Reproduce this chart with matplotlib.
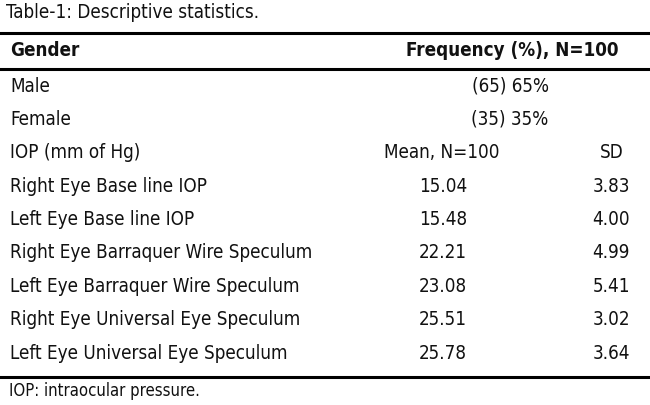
import matplotlib
matplotlib.use("Agg")
import matplotlib.pyplot as plt
from matplotlib import font_manager as fm

title = "Table-1: Descriptive statistics."
footnote = "IOP: intraocular pressure."
header = ["Gender", "Frequency (%), N=100"]
gender_labels = ["Male", "Female"]
gender_counts = [65, 35]
gender_pcts = [65, 35]
sub_header = ["IOP (mm of Hg)", "Mean, N=100", "SD"]
iop_labels = [
    "Right Eye Base line IOP",
    "Left Eye Base line IOP",
    "Right Eye Barraquer Wire Speculum",
    "Left Eye Barraquer Wire Speculum",
    "Right Eye Universal Eye Speculum",
    "Left Eye Universal Eye Speculum",
]
iop_means = [15.04, 15.48, 22.21, 23.08, 25.51, 25.78]
iop_sds = [3.83, 4.00, 4.99, 5.41, 3.02, 3.64]

names = {f.name for f in fm.fontManager.ttflist}
if "Liberation Sans Narrow" in names:
    fam = "Liberation Sans Narrow"
    stretch = "normal"
    fs = 14.5 * 1.125
else:
    fam = "DejaVu Sans"
    stretch = "condensed"
    fs = 12 * 1.125

W, H = 650, 405
fig = plt.figure(figsize=(W / 100, H / 100), dpi=100)
ax = fig.add_axes([0, 0, 1, 1])
ax.set_xlim(0, W)
ax.set_ylim(H, 0)
ax.axis("off")

kw = dict(family=fam, fontstretch=stretch, fontsize=fs, va="center", color="#111111")

ax.text(6, 13, title, ha="left", **kw)
ax.axhline(33, color="black", lw=2.2)
ax.text(10, 50, header[0], ha="left", fontweight="bold", **kw)
ax.text(619, 50, header[1], ha="right", fontweight="bold", **kw)
ax.axhline(69, color="black", lw=2.2)

row_h = 33.4
y0 = 86
for i, (lab, c, p) in enumerate(zip(gender_labels, gender_counts, gender_pcts)):
    y = y0 + i * row_h
    ax.text(10, y, lab, ha="left", **kw)
    ax.text(510, y, f"({c}) {p}%", ha="center", **kw)

y = y0 + 2 * row_h
ax.text(10, y, sub_header[0], ha="left", **kw)
ax.text(442, y, sub_header[1], ha="center", **kw)
ax.text(612, y, sub_header[2], ha="center", **kw)

for i, (lab, m, s) in enumerate(zip(iop_labels, iop_means, iop_sds)):
    y = y0 + (3 + i) * row_h
    ax.text(10, y, lab, ha="left", **kw)
    ax.text(443, y, f"{m:.2f}", ha="center", **kw)
    ax.text(630, y, f"{s:.2f}", ha="right", **kw)

ax.axhline(377, color="black", lw=2.2)
ax.text(9, 391, footnote, ha="left", **{**kw, "fontsize": fs * 0.89})

fig.savefig("out.png", dpi=100)
